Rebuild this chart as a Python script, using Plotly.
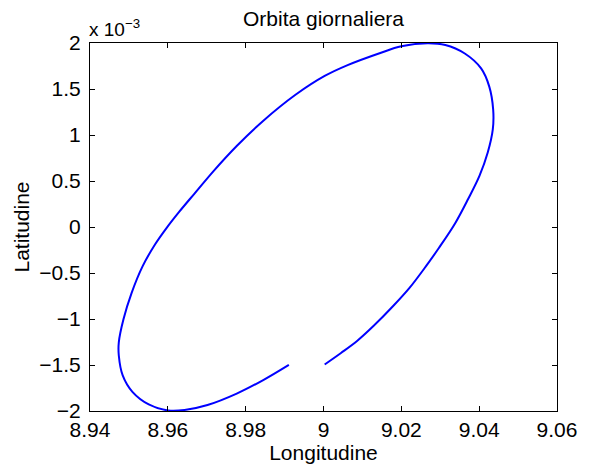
import plotly.graph_objects as go

# Daily orbit track: longitude (deg) and latitude (units of 1e-3 deg)
longitude = [
    9.0003, 9.0045, 9.0087, 9.0129, 9.0179, 9.0221, 9.0263, 9.0296, 9.0338,
    9.0372, 9.0401, 9.0422, 9.0435, 9.0436, 9.0426, 9.0405, 9.0363, 9.0313,
    9.0267, 9.0200, 9.0146, 9.0062, 9.0003, 8.9928, 8.9844, 8.9777,
    8.9718, 8.9668, 8.9629, 8.9597, 8.9567, 8.9535, 8.9507, 8.9486, 8.9474,
    8.9474, 8.9484, 8.9509, 8.9551, 8.9601, 8.9643, 8.9702, 8.9777, 8.9844,
    8.9911,
]
latitude_e3 = [
    -1.494, -1.369, -1.236, -1.074, -0.859, -0.662, -0.428, -0.231, 0.038,
    0.307, 0.558, 0.809, 1.060, 1.276, 1.526, 1.724, 1.886, 1.978,
    1.997, 1.964, 1.892, 1.760, 1.642, 1.437, 1.150, 0.881,
    0.611, 0.361, 0.164, -0.009, -0.190, -0.428, -0.716, -1.003, -1.254,
    -1.397, -1.613, -1.792, -1.929, -1.994, -1.989, -1.935, -1.811, -1.666,
    -1.498,
]

x_ticks = [8.94, 8.96, 8.98, 9.00, 9.02, 9.04, 9.06]
x_tick_text = ["8.94", "8.96", "8.98", "9", "9.02", "9.04", "9.06"]
y_ticks = [-2, -1.5, -1, -0.5, 0, 0.5, 1, 1.5, 2]
y_tick_text = ["\u22122", "\u22121.5", "\u22121", "\u22120.5", "0", "0.5", "1", "1.5", "2"]

FONT = "Liberation Sans, Arial, Helvetica, sans-serif"
FS = 21

fig = go.Figure(
    go.Scatter(
        x=longitude,
        y=latitude_e3,
        mode="lines",
        line=dict(color="#0000FF", width=2, shape="spline", smoothing=1.0),
        hoverinfo="skip",
    )
)

axis_common = dict(
    showline=True,
    linecolor="black",
    linewidth=1,
    mirror="ticks",
    ticks="inside",
    ticklen=5,
    tickwidth=1,
    tickcolor="black",
    showgrid=False,
    zeroline=False,
    tickfont=dict(family=FONT, size=FS, color="black"),
)

fig.update_layout(
    width=589,
    height=468,
    margin=dict(l=90, r=21, t=43, b=54),
    paper_bgcolor="white",
    plot_bgcolor="white",
    showlegend=False,
    title=dict(
        text="Orbita giornaliera",
        x=0.5,
        xref="paper",
        xanchor="center",
        y=1 - 19 / 468,
        yref="container",
        yanchor="middle",
        font=dict(family=FONT, size=FS, color="black"),
    ),
    xaxis=dict(
        axis_common,
        range=[8.94, 9.06],
        tickvals=x_ticks,
        ticktext=x_tick_text,
        ticklabelstandoff=0,
        title=dict(text="Longitudine", font=dict(family=FONT, size=FS, color="black"), standoff=0),
    ),
    yaxis=dict(
        axis_common,
        range=[-2, 2],
        tickvals=y_ticks,
        ticktext=y_tick_text,
        ticklabelstandoff=4,
        title=dict(text="Latitudine", font=dict(family=FONT, size=FS, color="black"), standoff=3),
    ),
    annotations=[
        dict(
            text="x 10<sup>\u22123</sup>",
            xref="paper",
            yref="paper",
            x=0,
            y=1,
            xanchor="left",
            yanchor="bottom",
            xshift=-3,
            yshift=1,
            showarrow=False,
            font=dict(family=FONT, size=19, color="black"),
        )
    ],
)

fig.write_html("out.html")
